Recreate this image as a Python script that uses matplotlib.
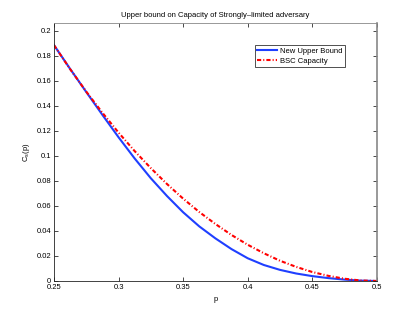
import matplotlib
matplotlib.use("Agg")
import matplotlib.pyplot as plt

# values
p = [0.25, 0.2625, 0.275, 0.2875, 0.3, 0.3125, 0.325, 0.3375, 0.35, 0.3625,
     0.375, 0.3875, 0.4, 0.4125, 0.425, 0.4375, 0.45, 0.4625, 0.475, 0.4875, 0.5]
upper_bound = [0.1887, 0.1697, 0.1512, 0.1329, 0.1150, 0.0980, 0.0822, 0.0680, 0.0550, 0.0437,
               0.0341, 0.0255, 0.0182, 0.0128, 0.0089, 0.0060, 0.0039, 0.0023, 0.0011, 0.0003, 0.0]
bsc_capacity = [0.1887, 0.1695, 0.1515, 0.1346, 0.1187, 0.1039, 0.0903, 0.0776, 0.0659, 0.0552,
                0.0456, 0.0368, 0.029, 0.0222, 0.0162, 0.0113, 0.0072, 0.0041, 0.0018, 0.0004, 0.0]
x_ticks = [0.25, 0.3, 0.35, 0.4, 0.45, 0.5]
y_ticks = [0, 0.02, 0.04, 0.06, 0.08, 0.1, 0.12, 0.14, 0.16, 0.18, 0.2]

plt.rcParams['font.family'] = ['Liberation Sans', 'DejaVu Sans']
fs = 5.5

fig = plt.figure(figsize=(4.15, 3.17), dpi=100)
ax = fig.add_axes([0.130, 0.1136, 0.778, 0.8124])

ax.plot(p, upper_bound, color='#1f3fff', lw=1.5, label='New Upper Bound')
ax.plot(p, bsc_capacity, color='red', lw=1.5, ls=(0, (2, 1, 0.5, 1)), label='BSC Capacity')

ax.set_xlim(0.25, 0.5)
ax.set_ylim(0, 0.206)
ax.set_xticks(x_ticks)
ax.set_xticklabels([('%g' % t) for t in x_ticks])
ax.set_yticks(y_ticks)
ax.set_yticklabels([('%g' % t) for t in y_ticks])
ax.tick_params(direction='in', top=True, right=True, length=3, width=0.5,
               labelsize=fs, pad=2)
for s in ax.spines.values():
    s.set_linewidth(0.6)
    s.set_color('#222222')
ax.spines['right'].set_color('#888888')
ax.spines['right'].set_linewidth(1.2)
ax.spines['top'].set_color('#888888')

ax.set_title('Upper bound on Capacity of Strongly\u2013limited adversary', fontsize=fs, pad=5)
ax.set_xlabel('p', fontsize=fs, labelpad=4)
ax.set_ylabel(r'C$_\mathregular{s}$(p)', fontsize=fs, labelpad=3)

leg = ax.legend(loc='upper right', bbox_to_anchor=(0.90, 0.915), fontsize=fs,
                frameon=True, fancybox=False, handlelength=2.6, borderpad=0.3,
                labelspacing=0.35, handletextpad=0.35, borderaxespad=0)
leg.get_frame().set_edgecolor('black')
leg.get_frame().set_linewidth(0.6)

fig.savefig('out.png', dpi=100)
